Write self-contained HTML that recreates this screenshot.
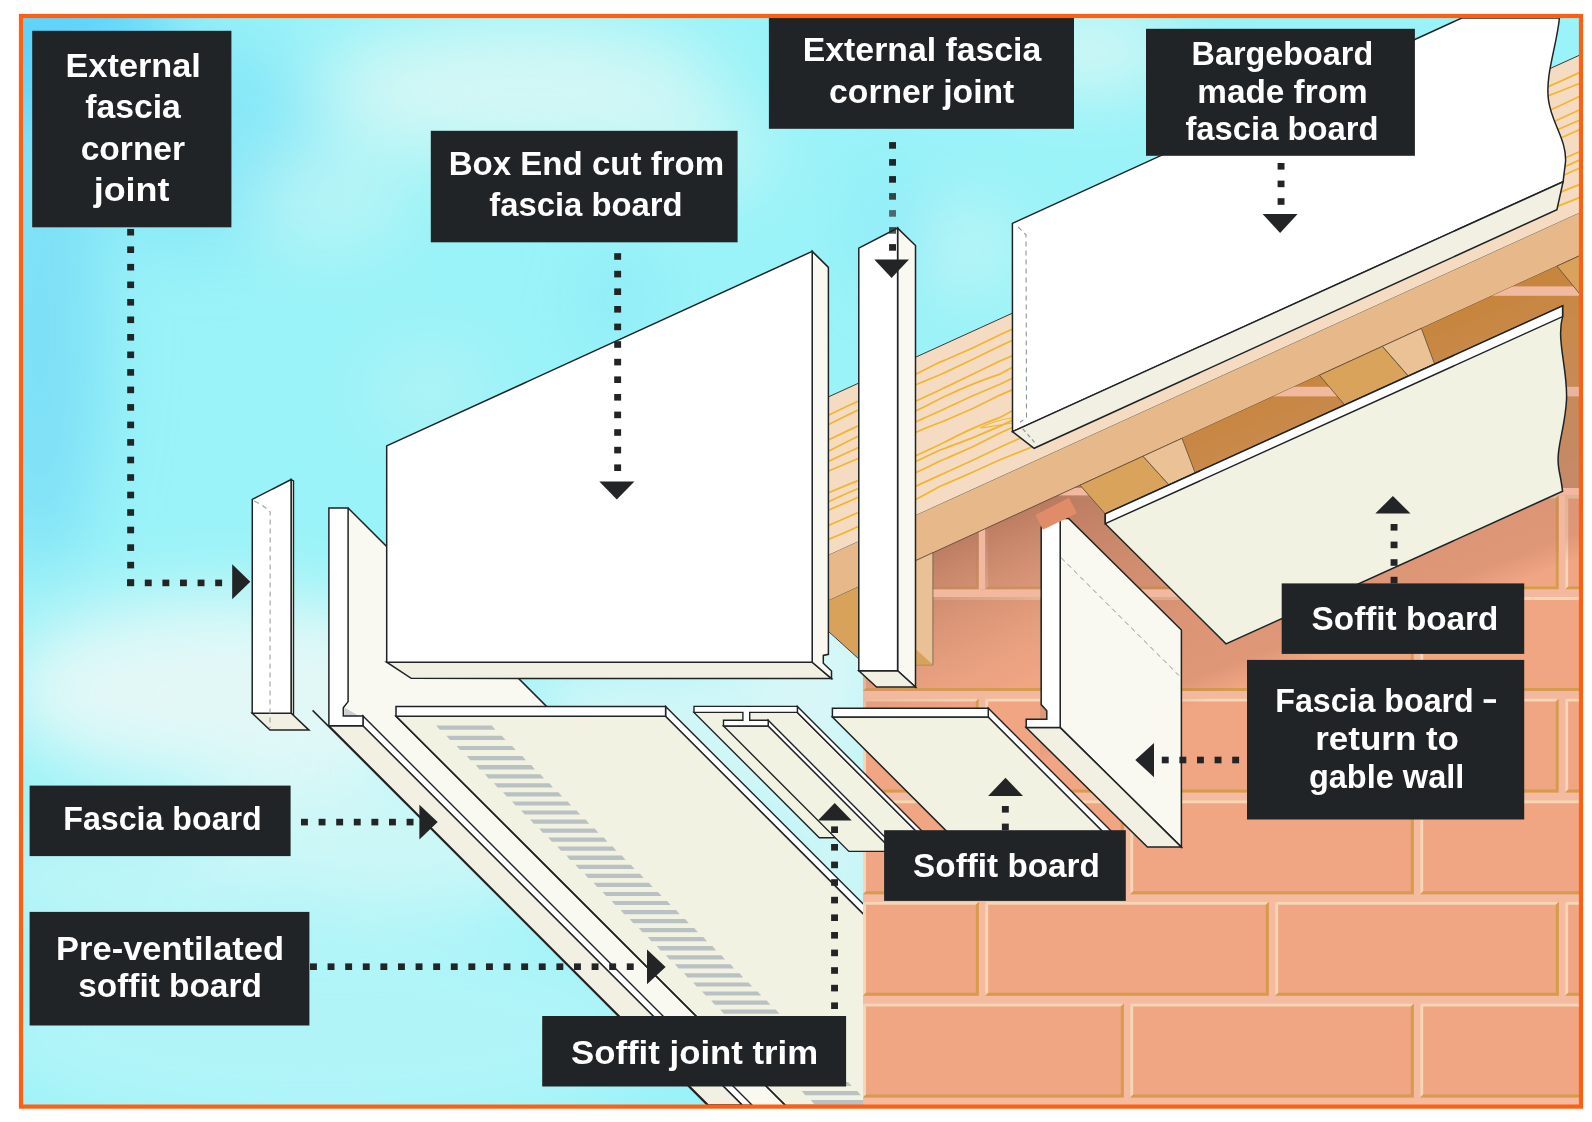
<!DOCTYPE html>
<html><head><meta charset="utf-8"><style>
html,body{margin:0;padding:0;background:#fff;}
svg{display:block;}
.lt{font-family:"Liberation Sans",sans-serif;font-weight:bold;font-size:32.5px;fill:#ffffff;}
</style></head><body>
<svg width="1592" height="1122" viewBox="0 0 1592 1122">

<defs>
 <radialGradient id="skyTL" cx="20" cy="20" r="520" gradientUnits="userSpaceOnUse">
   <stop offset="0" stop-color="#5ad0fb"/><stop offset="0.55" stop-color="#7fe0f6" stop-opacity="0.6"/><stop offset="1" stop-color="#9ff0f7" stop-opacity="0"/>
 </radialGradient>
 <radialGradient id="cloud1" cx="640" cy="120" r="330" gradientUnits="userSpaceOnUse" gradientTransform="translate(640 120) scale(1.5 0.7) translate(-640 -120)">
   <stop offset="0" stop-color="#dcf8f6"/><stop offset="0.5" stop-color="#cff6f5" stop-opacity="0.8"/><stop offset="1" stop-color="#cff6f5" stop-opacity="0"/>
 </radialGradient>
 <radialGradient id="cloud2" cx="260" cy="780" r="330" gradientUnits="userSpaceOnUse" gradientTransform="translate(260 780) scale(1.4 0.6) translate(-260 -780)">
   <stop offset="0" stop-color="#e3f9f6"/><stop offset="0.5" stop-color="#d3f6f5" stop-opacity="0.7"/><stop offset="1" stop-color="#d3f6f5" stop-opacity="0"/>
 </radialGradient>
 <radialGradient id="cloud3" cx="1080" cy="40" r="200" gradientUnits="userSpaceOnUse" gradientTransform="translate(1080 40) scale(1.6 0.6) translate(-1080 -40)">
   <stop offset="0" stop-color="#e0f8f6"/><stop offset="1" stop-color="#e0f8f6" stop-opacity="0"/>
 </radialGradient>
 <radialGradient id="cloud4" cx="560" cy="560" r="260" gradientUnits="userSpaceOnUse">
   <stop offset="0" stop-color="#c8f5f5" stop-opacity="0.6"/><stop offset="1" stop-color="#c8f5f5" stop-opacity="0"/>
 </radialGradient>
 <linearGradient id="wallShade" gradientUnits="userSpaceOnUse" x1="1000" y1="521.8" x2="1066" y2="667.4">
   <stop offset="0" stop-color="#b97a60" stop-opacity="0.92"/>
   <stop offset="0.5" stop-color="#c98a6e" stop-opacity="0.5"/>
   <stop offset="1" stop-color="#d89a7c" stop-opacity="0"/>
 </linearGradient>
 <linearGradient id="voidG" gradientUnits="userSpaceOnUse" x1="1300" y1="300" x2="1400" y2="560">
   <stop offset="0" stop-color="#c47f2c"/><stop offset="0.45" stop-color="#c98a4c"/><stop offset="1" stop-color="#c48a6c"/>
 </linearGradient>
 <filter id="blur1" x="-20%" y="-20%" width="140%" height="140%"><feGaussianBlur stdDeviation="35"/></filter>
 <clipPath id="frame"><rect x="23" y="18" width="1556" height="1087"/></clipPath>
<linearGradient id="castG" gradientUnits="userSpaceOnUse" x1="1257.4" y1="545.8" x2="1302.1" y2="663.6"><stop offset="0" stop-color="#b5765c" stop-opacity="0.4"/><stop offset="0.8" stop-color="#b5765c" stop-opacity="0.3"/><stop offset="1" stop-color="#b5765c" stop-opacity="0"/></linearGradient><clipPath id="wallclip"><polygon points="863,582.8 1579,254.0 1579,1105 863,1105"/></clipPath><clipPath id="plankclip"><polygon points="700.0,455.3 1579.0,55.4 1579.0,213.3 700.0,613.8"/></clipPath><clipPath id="voidclip"><polygon points="1080.0,485.2 1579.0,256.0 1579.0,488.0 1555.0,488.0 1555.0,319.4 1105.3,523.9 1105.3,513.9"/></clipPath><clipPath id="leftclip"><rect x="23" y="18" width="840" height="1087"/></clipPath></defs>

<g clip-path="url(#frame)">
<rect x="23.0" y="18.0" width="1556.0" height="1087.0" fill="#9af3f8" />
<g filter="url(#blur1)">
<ellipse cx="50" cy="40" rx="120" ry="90" fill="#5fd3fb"/>
<ellipse cx="40" cy="330" rx="60" ry="240" fill="#74daf6" opacity="0.8"/>
<ellipse cx="200" cy="140" rx="120" ry="110" fill="#7fe2f7" opacity="0.7"/>
<ellipse cx="520" cy="90" rx="200" ry="70" fill="#d3f7f5"/>
<ellipse cx="680" cy="150" rx="90" ry="45" fill="#c8f6f5"/>
<ellipse cx="893" cy="230" rx="22" ry="60" fill="#7fe4f7" opacity="0.8"/>
<ellipse cx="618" cy="300" rx="22" ry="45" fill="#7fe4f7" opacity="0.8"/>
<ellipse cx="330" cy="200" rx="80" ry="50" fill="#c0f5f5" opacity="0.8"/>
<ellipse cx="970" cy="250" rx="50" ry="45" fill="#bff5f5"/>
<ellipse cx="1090" cy="50" rx="90" ry="40" fill="#d8f7f5"/>
<ellipse cx="230" cy="690" rx="230" ry="95" fill="#e2f8f7"/>
<ellipse cx="120" cy="880" rx="160" ry="50" fill="#bff5f7"/>
<ellipse cx="400" cy="840" rx="220" ry="70" fill="#cdf7f7"/>
<ellipse cx="430" cy="390" rx="60" ry="40" fill="#bdf4f5" opacity="0.7"/>
<ellipse cx="320" cy="1030" rx="340" ry="110" fill="#b0f4f8"/>
<ellipse cx="720" cy="740" rx="170" ry="90" fill="#d0f6f7"/>
<ellipse cx="600" cy="690" rx="90" ry="30" fill="#d6f7f7"/>
<ellipse cx="820" cy="660" rx="80" ry="90" fill="#d8f7f7"/>
<ellipse cx="840" cy="860" rx="60" ry="120" fill="#d0f6f7"/>
</g></g>
<g clip-path="url(#wallclip)">
<rect x="863.0" y="180.0" width="716.0" height="930.0" fill="#f4bba0" />
<polygon points="863.0,1003.4 1123.8,1003.4 1123.8,1097.4 863.0,1097.4" fill="#f0a583" />
<polygon points="863.0,1003.4 1123.8,1003.4 1120.8,1006.4 866.0,1006.4" fill="#f6d6b4" />
<polygon points="863.0,1003.4 866.0,1006.4 866.0,1094.4 863.0,1097.4" fill="#f6d6b4" />
<polygon points="863.0,1097.4 866.0,1094.4 1120.8,1094.4 1123.8,1097.4" fill="#d69b4c" />
<polygon points="1123.8,1003.4 1123.8,1097.4 1120.8,1094.4 1120.8,1006.4" fill="#d69b4c" />
<polygon points="1130.2,1003.4 1413.8,1003.4 1413.8,1097.4 1130.2,1097.4" fill="#f0a583" />
<polygon points="1130.2,1003.4 1413.8,1003.4 1410.8,1006.4 1133.2,1006.4" fill="#f6d6b4" />
<polygon points="1130.2,1003.4 1133.2,1006.4 1133.2,1094.4 1130.2,1097.4" fill="#f6d6b4" />
<polygon points="1130.2,1097.4 1133.2,1094.4 1410.8,1094.4 1413.8,1097.4" fill="#d69b4c" />
<polygon points="1413.8,1003.4 1413.8,1097.4 1410.8,1094.4 1410.8,1006.4" fill="#d69b4c" />
<polygon points="1420.2,1003.4 1703.8,1003.4 1703.8,1097.4 1420.2,1097.4" fill="#f0a583" />
<polygon points="1420.2,1003.4 1703.8,1003.4 1700.8,1006.4 1423.2,1006.4" fill="#f6d6b4" />
<polygon points="1420.2,1003.4 1423.2,1006.4 1423.2,1094.4 1420.2,1097.4" fill="#f6d6b4" />
<polygon points="1420.2,1097.4 1423.2,1094.4 1700.8,1094.4 1703.8,1097.4" fill="#d69b4c" />
<polygon points="1703.8,1003.4 1703.8,1097.4 1700.8,1094.4 1700.8,1006.4" fill="#d69b4c" />
<polygon points="863.0,901.8 978.8,901.8 978.8,995.8 863.0,995.8" fill="#f0a583" />
<polygon points="863.0,901.8 978.8,901.8 975.8,904.8 866.0,904.8" fill="#f6d6b4" />
<polygon points="863.0,901.8 866.0,904.8 866.0,992.8 863.0,995.8" fill="#f6d6b4" />
<polygon points="863.0,995.8 866.0,992.8 975.8,992.8 978.8,995.8" fill="#d69b4c" />
<polygon points="978.8,901.8 978.8,995.8 975.8,992.8 975.8,904.8" fill="#d69b4c" />
<polygon points="985.2,901.8 1268.8,901.8 1268.8,995.8 985.2,995.8" fill="#f0a583" />
<polygon points="985.2,901.8 1268.8,901.8 1265.8,904.8 988.2,904.8" fill="#f6d6b4" />
<polygon points="985.2,901.8 988.2,904.8 988.2,992.8 985.2,995.8" fill="#f6d6b4" />
<polygon points="985.2,995.8 988.2,992.8 1265.8,992.8 1268.8,995.8" fill="#d69b4c" />
<polygon points="1268.8,901.8 1268.8,995.8 1265.8,992.8 1265.8,904.8" fill="#d69b4c" />
<polygon points="1275.2,901.8 1558.8,901.8 1558.8,995.8 1275.2,995.8" fill="#f0a583" />
<polygon points="1275.2,901.8 1558.8,901.8 1555.8,904.8 1278.2,904.8" fill="#f6d6b4" />
<polygon points="1275.2,901.8 1278.2,904.8 1278.2,992.8 1275.2,995.8" fill="#f6d6b4" />
<polygon points="1275.2,995.8 1278.2,992.8 1555.8,992.8 1558.8,995.8" fill="#d69b4c" />
<polygon points="1558.8,901.8 1558.8,995.8 1555.8,992.8 1555.8,904.8" fill="#d69b4c" />
<polygon points="1565.2,901.8 1848.8,901.8 1848.8,995.8 1565.2,995.8" fill="#f0a583" />
<polygon points="1565.2,901.8 1848.8,901.8 1845.8,904.8 1568.2,904.8" fill="#f6d6b4" />
<polygon points="1565.2,901.8 1568.2,904.8 1568.2,992.8 1565.2,995.8" fill="#f6d6b4" />
<polygon points="1565.2,995.8 1568.2,992.8 1845.8,992.8 1848.8,995.8" fill="#d69b4c" />
<polygon points="1848.8,901.8 1848.8,995.8 1845.8,992.8 1845.8,904.8" fill="#d69b4c" />
<polygon points="863.0,800.2 1123.8,800.2 1123.8,894.2 863.0,894.2" fill="#f0a583" />
<polygon points="863.0,800.2 1123.8,800.2 1120.8,803.2 866.0,803.2" fill="#f6d6b4" />
<polygon points="863.0,800.2 866.0,803.2 866.0,891.2 863.0,894.2" fill="#f6d6b4" />
<polygon points="863.0,894.2 866.0,891.2 1120.8,891.2 1123.8,894.2" fill="#d69b4c" />
<polygon points="1123.8,800.2 1123.8,894.2 1120.8,891.2 1120.8,803.2" fill="#d69b4c" />
<polygon points="1130.2,800.2 1413.8,800.2 1413.8,894.2 1130.2,894.2" fill="#f0a583" />
<polygon points="1130.2,800.2 1413.8,800.2 1410.8,803.2 1133.2,803.2" fill="#f6d6b4" />
<polygon points="1130.2,800.2 1133.2,803.2 1133.2,891.2 1130.2,894.2" fill="#f6d6b4" />
<polygon points="1130.2,894.2 1133.2,891.2 1410.8,891.2 1413.8,894.2" fill="#d69b4c" />
<polygon points="1413.8,800.2 1413.8,894.2 1410.8,891.2 1410.8,803.2" fill="#d69b4c" />
<polygon points="1420.2,800.2 1703.8,800.2 1703.8,894.2 1420.2,894.2" fill="#f0a583" />
<polygon points="1420.2,800.2 1703.8,800.2 1700.8,803.2 1423.2,803.2" fill="#f6d6b4" />
<polygon points="1420.2,800.2 1423.2,803.2 1423.2,891.2 1420.2,894.2" fill="#f6d6b4" />
<polygon points="1420.2,894.2 1423.2,891.2 1700.8,891.2 1703.8,894.2" fill="#d69b4c" />
<polygon points="1703.8,800.2 1703.8,894.2 1700.8,891.2 1700.8,803.2" fill="#d69b4c" />
<polygon points="863.0,698.6 978.8,698.6 978.8,792.6 863.0,792.6" fill="#f0a583" />
<polygon points="863.0,698.6 978.8,698.6 975.8,701.6 866.0,701.6" fill="#f6d6b4" />
<polygon points="863.0,698.6 866.0,701.6 866.0,789.6 863.0,792.6" fill="#f6d6b4" />
<polygon points="863.0,792.6 866.0,789.6 975.8,789.6 978.8,792.6" fill="#d69b4c" />
<polygon points="978.8,698.6 978.8,792.6 975.8,789.6 975.8,701.6" fill="#d69b4c" />
<polygon points="985.2,698.6 1268.8,698.6 1268.8,792.6 985.2,792.6" fill="#f0a583" />
<polygon points="985.2,698.6 1268.8,698.6 1265.8,701.6 988.2,701.6" fill="#f6d6b4" />
<polygon points="985.2,698.6 988.2,701.6 988.2,789.6 985.2,792.6" fill="#f6d6b4" />
<polygon points="985.2,792.6 988.2,789.6 1265.8,789.6 1268.8,792.6" fill="#d69b4c" />
<polygon points="1268.8,698.6 1268.8,792.6 1265.8,789.6 1265.8,701.6" fill="#d69b4c" />
<polygon points="1275.2,698.6 1558.8,698.6 1558.8,792.6 1275.2,792.6" fill="#f0a583" />
<polygon points="1275.2,698.6 1558.8,698.6 1555.8,701.6 1278.2,701.6" fill="#f6d6b4" />
<polygon points="1275.2,698.6 1278.2,701.6 1278.2,789.6 1275.2,792.6" fill="#f6d6b4" />
<polygon points="1275.2,792.6 1278.2,789.6 1555.8,789.6 1558.8,792.6" fill="#d69b4c" />
<polygon points="1558.8,698.6 1558.8,792.6 1555.8,789.6 1555.8,701.6" fill="#d69b4c" />
<polygon points="1565.2,698.6 1848.8,698.6 1848.8,792.6 1565.2,792.6" fill="#f0a583" />
<polygon points="1565.2,698.6 1848.8,698.6 1845.8,701.6 1568.2,701.6" fill="#f6d6b4" />
<polygon points="1565.2,698.6 1568.2,701.6 1568.2,789.6 1565.2,792.6" fill="#f6d6b4" />
<polygon points="1565.2,792.6 1568.2,789.6 1845.8,789.6 1848.8,792.6" fill="#d69b4c" />
<polygon points="1848.8,698.6 1848.8,792.6 1845.8,789.6 1845.8,701.6" fill="#d69b4c" />
<polygon points="863.0,597.0 1123.8,597.0 1123.8,691.0 863.0,691.0" fill="#f0a583" />
<polygon points="863.0,597.0 1123.8,597.0 1120.8,600.0 866.0,600.0" fill="#f6d6b4" />
<polygon points="863.0,597.0 866.0,600.0 866.0,688.0 863.0,691.0" fill="#f6d6b4" />
<polygon points="863.0,691.0 866.0,688.0 1120.8,688.0 1123.8,691.0" fill="#d69b4c" />
<polygon points="1123.8,597.0 1123.8,691.0 1120.8,688.0 1120.8,600.0" fill="#d69b4c" />
<polygon points="1130.2,597.0 1413.8,597.0 1413.8,691.0 1130.2,691.0" fill="#f0a583" />
<polygon points="1130.2,597.0 1413.8,597.0 1410.8,600.0 1133.2,600.0" fill="#f6d6b4" />
<polygon points="1130.2,597.0 1133.2,600.0 1133.2,688.0 1130.2,691.0" fill="#f6d6b4" />
<polygon points="1130.2,691.0 1133.2,688.0 1410.8,688.0 1413.8,691.0" fill="#d69b4c" />
<polygon points="1413.8,597.0 1413.8,691.0 1410.8,688.0 1410.8,600.0" fill="#d69b4c" />
<polygon points="1420.2,597.0 1703.8,597.0 1703.8,691.0 1420.2,691.0" fill="#f0a583" />
<polygon points="1420.2,597.0 1703.8,597.0 1700.8,600.0 1423.2,600.0" fill="#f6d6b4" />
<polygon points="1420.2,597.0 1423.2,600.0 1423.2,688.0 1420.2,691.0" fill="#f6d6b4" />
<polygon points="1420.2,691.0 1423.2,688.0 1700.8,688.0 1703.8,691.0" fill="#d69b4c" />
<polygon points="1703.8,597.0 1703.8,691.0 1700.8,688.0 1700.8,600.0" fill="#d69b4c" />
<polygon points="863.0,495.4 978.8,495.4 978.8,589.4 863.0,589.4" fill="#f0a583" />
<polygon points="863.0,495.4 978.8,495.4 975.8,498.4 866.0,498.4" fill="#f6d6b4" />
<polygon points="863.0,495.4 866.0,498.4 866.0,586.4 863.0,589.4" fill="#f6d6b4" />
<polygon points="863.0,589.4 866.0,586.4 975.8,586.4 978.8,589.4" fill="#d69b4c" />
<polygon points="978.8,495.4 978.8,589.4 975.8,586.4 975.8,498.4" fill="#d69b4c" />
<polygon points="985.2,495.4 1268.8,495.4 1268.8,589.4 985.2,589.4" fill="#f0a583" />
<polygon points="985.2,495.4 1268.8,495.4 1265.8,498.4 988.2,498.4" fill="#f6d6b4" />
<polygon points="985.2,495.4 988.2,498.4 988.2,586.4 985.2,589.4" fill="#f6d6b4" />
<polygon points="985.2,589.4 988.2,586.4 1265.8,586.4 1268.8,589.4" fill="#d69b4c" />
<polygon points="1268.8,495.4 1268.8,589.4 1265.8,586.4 1265.8,498.4" fill="#d69b4c" />
<polygon points="1275.2,495.4 1558.8,495.4 1558.8,589.4 1275.2,589.4" fill="#f0a583" />
<polygon points="1275.2,495.4 1558.8,495.4 1555.8,498.4 1278.2,498.4" fill="#f6d6b4" />
<polygon points="1275.2,495.4 1278.2,498.4 1278.2,586.4 1275.2,589.4" fill="#f6d6b4" />
<polygon points="1275.2,589.4 1278.2,586.4 1555.8,586.4 1558.8,589.4" fill="#d69b4c" />
<polygon points="1558.8,495.4 1558.8,589.4 1555.8,586.4 1555.8,498.4" fill="#d69b4c" />
<polygon points="1565.2,495.4 1848.8,495.4 1848.8,589.4 1565.2,589.4" fill="#f0a583" />
<polygon points="1565.2,495.4 1848.8,495.4 1845.8,498.4 1568.2,498.4" fill="#f6d6b4" />
<polygon points="1565.2,495.4 1568.2,498.4 1568.2,586.4 1565.2,589.4" fill="#f6d6b4" />
<polygon points="1565.2,589.4 1568.2,586.4 1845.8,586.4 1848.8,589.4" fill="#d69b4c" />
<polygon points="1848.8,495.4 1848.8,589.4 1845.8,586.4 1845.8,498.4" fill="#d69b4c" />
<polygon points="863.0,393.8 1123.8,393.8 1123.8,487.8 863.0,487.8" fill="#f0a583" />
<polygon points="863.0,393.8 1123.8,393.8 1120.8,396.8 866.0,396.8" fill="#f6d6b4" />
<polygon points="863.0,393.8 866.0,396.8 866.0,484.8 863.0,487.8" fill="#f6d6b4" />
<polygon points="863.0,487.8 866.0,484.8 1120.8,484.8 1123.8,487.8" fill="#d69b4c" />
<polygon points="1123.8,393.8 1123.8,487.8 1120.8,484.8 1120.8,396.8" fill="#d69b4c" />
<polygon points="1130.2,393.8 1413.8,393.8 1413.8,487.8 1130.2,487.8" fill="#f0a583" />
<polygon points="1130.2,393.8 1413.8,393.8 1410.8,396.8 1133.2,396.8" fill="#f6d6b4" />
<polygon points="1130.2,393.8 1133.2,396.8 1133.2,484.8 1130.2,487.8" fill="#f6d6b4" />
<polygon points="1130.2,487.8 1133.2,484.8 1410.8,484.8 1413.8,487.8" fill="#d69b4c" />
<polygon points="1413.8,393.8 1413.8,487.8 1410.8,484.8 1410.8,396.8" fill="#d69b4c" />
<polygon points="1420.2,393.8 1703.8,393.8 1703.8,487.8 1420.2,487.8" fill="#f0a583" />
<polygon points="1420.2,393.8 1703.8,393.8 1700.8,396.8 1423.2,396.8" fill="#f6d6b4" />
<polygon points="1420.2,393.8 1423.2,396.8 1423.2,484.8 1420.2,487.8" fill="#f6d6b4" />
<polygon points="1420.2,487.8 1423.2,484.8 1700.8,484.8 1703.8,487.8" fill="#d69b4c" />
<polygon points="1703.8,393.8 1703.8,487.8 1700.8,484.8 1700.8,396.8" fill="#d69b4c" />
<polygon points="863.0,292.2 978.8,292.2 978.8,386.2 863.0,386.2" fill="#f0a583" />
<polygon points="863.0,292.2 978.8,292.2 975.8,295.2 866.0,295.2" fill="#f6d6b4" />
<polygon points="863.0,292.2 866.0,295.2 866.0,383.2 863.0,386.2" fill="#f6d6b4" />
<polygon points="863.0,386.2 866.0,383.2 975.8,383.2 978.8,386.2" fill="#d69b4c" />
<polygon points="978.8,292.2 978.8,386.2 975.8,383.2 975.8,295.2" fill="#d69b4c" />
<polygon points="985.2,292.2 1268.8,292.2 1268.8,386.2 985.2,386.2" fill="#f0a583" />
<polygon points="985.2,292.2 1268.8,292.2 1265.8,295.2 988.2,295.2" fill="#f6d6b4" />
<polygon points="985.2,292.2 988.2,295.2 988.2,383.2 985.2,386.2" fill="#f6d6b4" />
<polygon points="985.2,386.2 988.2,383.2 1265.8,383.2 1268.8,386.2" fill="#d69b4c" />
<polygon points="1268.8,292.2 1268.8,386.2 1265.8,383.2 1265.8,295.2" fill="#d69b4c" />
<polygon points="1275.2,292.2 1558.8,292.2 1558.8,386.2 1275.2,386.2" fill="#f0a583" />
<polygon points="1275.2,292.2 1558.8,292.2 1555.8,295.2 1278.2,295.2" fill="#f6d6b4" />
<polygon points="1275.2,292.2 1278.2,295.2 1278.2,383.2 1275.2,386.2" fill="#f6d6b4" />
<polygon points="1275.2,386.2 1278.2,383.2 1555.8,383.2 1558.8,386.2" fill="#d69b4c" />
<polygon points="1558.8,292.2 1558.8,386.2 1555.8,383.2 1555.8,295.2" fill="#d69b4c" />
<polygon points="1565.2,292.2 1848.8,292.2 1848.8,386.2 1565.2,386.2" fill="#f0a583" />
<polygon points="1565.2,292.2 1848.8,292.2 1845.8,295.2 1568.2,295.2" fill="#f6d6b4" />
<polygon points="1565.2,292.2 1568.2,295.2 1568.2,383.2 1565.2,386.2" fill="#f6d6b4" />
<polygon points="1565.2,386.2 1568.2,383.2 1845.8,383.2 1848.8,386.2" fill="#d69b4c" />
<polygon points="1848.8,292.2 1848.8,386.2 1845.8,383.2 1845.8,295.2" fill="#d69b4c" />
<polygon points="863.0,190.6 1123.8,190.6 1123.8,284.6 863.0,284.6" fill="#f0a583" />
<polygon points="863.0,190.6 1123.8,190.6 1120.8,193.6 866.0,193.6" fill="#f6d6b4" />
<polygon points="863.0,190.6 866.0,193.6 866.0,281.6 863.0,284.6" fill="#f6d6b4" />
<polygon points="863.0,284.6 866.0,281.6 1120.8,281.6 1123.8,284.6" fill="#d69b4c" />
<polygon points="1123.8,190.6 1123.8,284.6 1120.8,281.6 1120.8,193.6" fill="#d69b4c" />
<polygon points="1130.2,190.6 1413.8,190.6 1413.8,284.6 1130.2,284.6" fill="#f0a583" />
<polygon points="1130.2,190.6 1413.8,190.6 1410.8,193.6 1133.2,193.6" fill="#f6d6b4" />
<polygon points="1130.2,190.6 1133.2,193.6 1133.2,281.6 1130.2,284.6" fill="#f6d6b4" />
<polygon points="1130.2,284.6 1133.2,281.6 1410.8,281.6 1413.8,284.6" fill="#d69b4c" />
<polygon points="1413.8,190.6 1413.8,284.6 1410.8,281.6 1410.8,193.6" fill="#d69b4c" />
<polygon points="1420.2,190.6 1703.8,190.6 1703.8,284.6 1420.2,284.6" fill="#f0a583" />
<polygon points="1420.2,190.6 1703.8,190.6 1700.8,193.6 1423.2,193.6" fill="#f6d6b4" />
<polygon points="1420.2,190.6 1423.2,193.6 1423.2,281.6 1420.2,284.6" fill="#f6d6b4" />
<polygon points="1420.2,284.6 1423.2,281.6 1700.8,281.6 1703.8,284.6" fill="#d69b4c" />
<polygon points="1703.8,190.6 1703.8,284.6 1700.8,281.6 1700.8,193.6" fill="#d69b4c" />
<rect x="863.0" y="180.0" width="716.0" height="700.0" fill="url(#wallShade)" />
<polygon points="1040.0,200.0 1579.0,200.0 1579.0,560.0 1040.0,764.8" fill="url(#castG)" />
<rect x="863.0" y="691.0" width="716.0" height="7.6" fill="#f2b9a0" />
<rect x="978.8" y="698.6" width="6.4" height="94.0" fill="#f2b9a0" />
<rect x="1268.8" y="698.6" width="6.4" height="94.0" fill="#f2b9a0" />
<rect x="1558.8" y="698.6" width="6.4" height="94.0" fill="#f2b9a0" />
<rect x="863.0" y="589.4" width="716.0" height="7.6" fill="#f2b9a0" />
<rect x="1123.8" y="597.0" width="6.4" height="94.0" fill="#f2b9a0" />
<rect x="1413.8" y="597.0" width="6.4" height="94.0" fill="#f2b9a0" />
<rect x="863.0" y="487.8" width="716.0" height="7.6" fill="#f2b9a0" />
<rect x="978.8" y="495.4" width="6.4" height="94.0" fill="#f2b9a0" />
<rect x="1268.8" y="495.4" width="6.4" height="94.0" fill="#f2b9a0" />
<rect x="1558.8" y="495.4" width="6.4" height="94.0" fill="#f2b9a0" />
<rect x="863.0" y="386.2" width="716.0" height="7.6" fill="#f2b9a0" />
<rect x="1123.8" y="393.8" width="6.4" height="94.0" fill="#f2b9a0" />
<rect x="1413.8" y="393.8" width="6.4" height="94.0" fill="#f2b9a0" />
<rect x="863.0" y="284.6" width="716.0" height="7.6" fill="#f2b9a0" />
<rect x="978.8" y="292.2" width="6.4" height="94.0" fill="#f2b9a0" />
<rect x="1268.8" y="292.2" width="6.4" height="94.0" fill="#f2b9a0" />
<rect x="1558.8" y="292.2" width="6.4" height="94.0" fill="#f2b9a0" />
<rect x="863.0" y="183.0" width="716.0" height="7.6" fill="#f2b9a0" />
<rect x="1123.8" y="190.6" width="6.4" height="94.0" fill="#f2b9a0" />
<rect x="1413.8" y="190.6" width="6.4" height="94.0" fill="#f2b9a0" />
</g>
<g clip-path="url(#frame)">
<polygon points="700.0,455.3 1579.0,55.4 1579.0,213.3 700.0,613.8" fill="#f5dbc2" />
<g clip-path="url(#plankclip)">
<path d="M700,473.2 Q730.0,457.8 760,445.2 Q790.0,430.2 820,419.3 Q850.0,404.3 880,391.5 Q910.0,377.7 940,362.1 Q970.0,350.0 1000,334.7 Q1030.0,321.0 1060,307.5 Q1090.0,297.4 1120,281.8 Q1150.0,267.1 1180,253.2 Q1210.0,243.4 1240,228.1 Q1270.0,213.3 1300,200.5 Q1330.0,184.3 1360,175.0 Q1390.0,158.2 1420,147.2 Q1450.0,130.0 1480,116.7 Q1510.0,106.2 1540,90.1 Q1570.0,77.7 1600,62.3" fill="none" stroke="#f1b52e" stroke-width="1.7"/>
<path d="M700,483.2 Q730.0,468.9 760,456.5 Q790.0,440.1 820,428.8 Q850.0,413.5 880,399.4 Q910.0,387.3 940,374.8 Q970.0,360.8 1000,345.9 Q1030.0,332.0 1060,319.2 Q1090.0,306.7 1120,293.4 Q1150.0,278.8 1180,263.6 Q1210.0,253.0 1240,237.6 Q1270.0,222.7 1300,211.2 Q1330.0,194.6 1360,185.0 Q1390.0,170.5 1420,155.2 Q1450.0,141.8 1480,126.7 Q1510.0,115.4 1540,98.9 Q1570.0,87.6 1600,74.8" fill="none" stroke="#f1b52e" stroke-width="1.7"/>
<path d="M700,497.7 Q730.0,483.1 760,472.0 Q790.0,457.2 820,443.9 Q850.0,429.2 880,416.1 Q910.0,404.3 940,389.9 Q970.0,375.6 1000,361.0 Q1030.0,348.5 1060,331.9 Q1090.0,322.6 1120,307.1 Q1150.0,291.8 1180,280.6 Q1210.0,266.4 1240,251.4 Q1270.0,238.0 1300,222.5 Q1330.0,209.0 1360,195.8 Q1390.0,184.9 1420,168.0 Q1450.0,155.0 1480,141.0 Q1510.0,130.8 1540,114.8 Q1570.0,101.4 1600,86.2" fill="none" stroke="#f1b52e" stroke-width="1.7"/>
<path d="M700,508.6 Q730.0,496.9 760,481.6 Q790.0,469.5 820,455.4 Q850.0,439.9 880,425.7 Q910.0,415.0 940,398.8 Q970.0,384.0 1000,374.1 Q1030.0,357.1 1060,343.3 Q1090.0,331.0 1120,316.3 Q1150.0,302.6 1180,290.5 Q1210.0,276.1 1240,260.6 Q1270.0,249.5 1300,234.9 Q1330.0,222.8 1360,210.2 Q1390.0,195.1 1420,180.9 Q1450.0,165.0 1480,154.3 Q1510.0,141.3 1540,128.0 Q1570.0,114.1 1600,100.6" fill="none" stroke="#f1b52e" stroke-width="1.7"/>
<path d="M700,521.6 Q730.0,507.4 760,493.8 Q790.0,481.3 820,465.2 Q850.0,451.2 880,437.7 Q910.0,424.3 940,411.1 Q970.0,396.4 1000,384.3 Q1030.0,369.6 1060,355.5 Q1090.0,343.4 1120,328.6 Q1150.0,318.6 1180,301.0 Q1210.0,287.7 1240,276.3 Q1270.0,261.3 1300,247.3 Q1330.0,232.9 1360,220.5 Q1390.0,209.9 1420,195.3 Q1450.0,180.1 1480,166.3 Q1510.0,150.8 1540,137.3 Q1570.0,124.3 1600,111.2" fill="none" stroke="#f1b52e" stroke-width="1.7"/>
<path d="M700,531.6 Q730.0,516.2 760,505.7 Q790.0,492.9 820,474.8 Q850.0,461.5 880,449.7 Q910.0,433.6 940,422.5 Q970.0,411.0 1000,395.1 Q1030.0,382.3 1060,369.3 Q1090.0,353.3 1120,339.3 Q1150.0,328.0 1180,311.6 Q1210.0,300.8 1240,285.8 Q1270.0,270.7 1300,257.6 Q1330.0,247.1 1360,232.4 Q1390.0,218.9 1420,205.3 Q1450.0,191.3 1480,177.8 Q1510.0,162.8 1540,147.9 Q1570.0,133.1 1600,121.1" fill="none" stroke="#f1b52e" stroke-width="1.7"/>
<path d="M700,552.0 Q730.0,537.3 760,522.6 Q790.0,512.0 820,496.3 Q850.0,483.4 880,472.1 Q910.0,458.8 940,444.6 Q970.0,428.4 1000,417.4 Q1030.0,400.4 1060,386.8 Q1090.0,372.9 1120,359.4 Q1150.0,349.1 1180,334.0 Q1210.0,319.7 1240,307.6 Q1270.0,293.9 1300,279.4 Q1330.0,265.9 1360,249.6 Q1390.0,239.2 1420,225.9 Q1450.0,210.3 1480,197.9 Q1510.0,184.6 1540,168.1 Q1570.0,157.3 1600,141.4" fill="none" stroke="#f1b52e" stroke-width="1.7"/>
<path d="M700,561.0 Q730.0,546.8 760,535.7 Q790.0,522.2 820,505.9 Q850.0,491.0 880,480.0 Q910.0,463.6 940,450.0 Q970.0,439.6 1000,426.1 Q1030.0,412.3 1060,395.5 Q1090.0,384.2 1120,371.8 Q1150.0,356.3 1180,341.7 Q1210.0,326.3 1240,313.4 Q1270.0,302.1 1300,289.8 Q1330.0,276.2 1360,260.5 Q1390.0,248.6 1420,232.8 Q1450.0,218.0 1480,207.2 Q1510.0,191.0 1540,177.3 Q1570.0,165.2 1600,149.9" fill="none" stroke="#f1b52e" stroke-width="1.7"/>
<path d="M700,570.0 Q730.0,555.9 760,541.6 Q790.0,531.0 820,513.7 Q850.0,501.4 880,487.3 Q910.0,476.3 940,461.0 Q970.0,449.1 1000,433.0 Q1030.0,419.8 1060,406.0 Q1090.0,389.9 1120,378.8 Q1150.0,363.4 1180,351.1 Q1210.0,339.2 1240,321.8 Q1270.0,310.2 1300,295.2 Q1330.0,283.3 1360,270.3 Q1390.0,255.8 1420,241.2 Q1450.0,229.8 1480,214.9 Q1510.0,201.3 1540,185.6 Q1570.0,172.6 1600,158.9" fill="none" stroke="#f1b52e" stroke-width="1.7"/>
<path d="M700,583.9 Q730.0,570.3 760,557.8 Q790.0,544.2 820,529.5 Q850.0,515.3 880,503.7 Q910.0,488.3 940,475.1 Q970.0,461.9 1000,447.3 Q1030.0,433.8 1060,419.7 Q1090.0,408.5 1120,392.5 Q1150.0,380.8 1180,366.1 Q1210.0,350.4 1240,339.9 Q1270.0,326.5 1300,310.9 Q1330.0,295.1 1360,284.8 Q1390.0,269.3 1420,254.3 Q1450.0,241.0 1480,226.7 Q1510.0,215.8 1540,199.4 Q1570.0,189.6 1600,175.2" fill="none" stroke="#f1b52e" stroke-width="1.7"/>
<path d="M700,596.9 Q730.0,584.3 760,568.0 Q790.0,554.1 820,542.9 Q850.0,530.9 880,516.6 Q910.0,503.5 940,486.3 Q970.0,473.8 1000,459.8 Q1030.0,448.2 1060,435.0 Q1090.0,418.9 1120,404.0 Q1150.0,391.1 1180,378.3 Q1210.0,363.6 1240,349.5 Q1270.0,334.8 1300,324.5 Q1330.0,309.6 1360,296.4 Q1390.0,281.7 1420,266.7 Q1450.0,255.2 1480,242.1 Q1510.0,230.3 1540,212.3 Q1570.0,202.9 1600,188.1" fill="none" stroke="#f1b52e" stroke-width="1.7"/>
<path d="M980,428 Q995,420 1012,418 M982,428 Q1000,425 1012,423" fill="none" stroke="#f1b52e" stroke-width="1.2"/>
</g>
<line x1="700.0" y1="455.3" x2="1579.0" y2="55.4" stroke="#3a3a36" stroke-width="1.0" />
<line x1="700.0" y1="613.8" x2="1579.0" y2="213.3" stroke="#6b5a48" stroke-width="0.9" />
<polygon points="700.0,613.8 1579.0,213.3 1579.0,256.0 700.0,659.7" fill="#e7b98a" />
<line x1="700.0" y1="659.7" x2="1579.0" y2="256.0" stroke="#5a4a3a" stroke-width="0.9" />
<polygon points="820.0,604.6 860.0,586.2 860.0,660.0 820.0,623.0" fill="#d9a25b" />
<line x1="828.0" y1="631.0" x2="860.0" y2="660.0" stroke="#3a3a36" stroke-width="1.0" />
<polygon points="915.6,560.7 932.9,552.7 932.9,664.8 915.6,664.8" fill="#eac196" stroke="#6b5a48" stroke-width="0.8" stroke-linejoin="miter" />
<polygon points="915.6,648.9 932.9,664.8 915.6,664.8" fill="#d9a25b" />
<polygon points="1080.0,485.2 1579.0,256.0 1579.0,488.0 1555.0,488.0 1555.0,319.4 1105.3,523.9 1105.3,513.9" fill="url(#voidG)" />
<g clip-path="url(#voidclip)">
<rect x="1250.0" y="386.8" width="100.0" height="9.6" fill="#f0b9a0" />
<rect x="1470.0" y="286.4" width="110.0" height="9.4" fill="#f0b9a0" />
<rect x="1540.0" y="386.8" width="40.0" height="9.6" fill="#eab59c" />
</g>
<polygon points="1080.0,485.2 1143.0,456.2 1169.0,484.9 1105.3,513.9" fill="#d9a35c" stroke="#5a4a3a" stroke-width="0.8" stroke-linejoin="miter" />
<polygon points="1143.0,456.2 1182.0,438.3 1195.2,473.0 1169.0,484.9" fill="#ebc295" stroke="#5a4a3a" stroke-width="0.8" stroke-linejoin="miter" />
<polygon points="1319.4,375.2 1382.4,346.3 1408.4,376.1 1344.7,405.0" fill="#d9a35c" stroke="#5a4a3a" stroke-width="0.8" stroke-linejoin="miter" />
<polygon points="1382.4,346.3 1421.4,328.4 1434.6,364.1 1408.4,376.1" fill="#ebc295" stroke="#5a4a3a" stroke-width="0.8" stroke-linejoin="miter" />
<polygon points="1557.0,266.1 1620.0,237.2 1646.0,268.0 1582.3,297.0" fill="#d9a35c" stroke="#5a4a3a" stroke-width="0.8" stroke-linejoin="miter" />
<polygon points="1620.0,237.2 1659.0,219.2 1672.2,256.1 1646.0,268.0" fill="#ebc295" stroke="#5a4a3a" stroke-width="0.8" stroke-linejoin="miter" />
</g>
<path d="M1012.4,223.4 L1461.8,18 L1559.4,18 C1557,45 1545,75 1548.5,100 C1551,122 1567,140 1565.5,162 L1563.1,181.7 L1012.5,431.6 Z" fill="#ffffff" stroke="#1f2325" stroke-width="1.5" />
<polygon points="1012.5,431.6 1563.1,181.7 1556.9,209.7 1034.1,448.3" fill="#f1f0e2" stroke="#1f2325" stroke-width="1.5" stroke-linejoin="miter" />
<path d="M1018,226.8 L1026,234.8 L1026.5,417.6 L1020.1,422.2" fill="none" stroke="#8a9494" stroke-width="1.1" stroke-dasharray="5 4"/>
<path d="M1022.8,428.9 L1034.5,442.3" fill="none" stroke="#8a9494" stroke-width="1.1" stroke-dasharray="4 3"/>
<path d="M1105.3,513.9 L1562.6,305.9 L1562.6,316.6 C1556,340 1568,370 1566.5,400 C1565,430 1555,450 1559,470 C1561,480 1562,486 1562.6,491.3 L1226,643.9 L1105.3,523.7 Z" fill="#f2f2e3" stroke="#1f2325" stroke-width="1.5" />
<polygon points="1105.3,513.9 1562.6,305.9 1562.6,316.6 1105.3,523.7" fill="#ffffff" stroke="#1f2325" stroke-width="1.5" stroke-linejoin="miter" />
<polygon points="1060.2,518.5 1068.6,518.5 1181.4,630.0 1181.4,847.1 1060.2,727.6" fill="#f9f8f1" stroke="#1f2325" stroke-width="1.5" stroke-linejoin="miter" />
<path d="M1061.2,557.8 L1178.9,675.4" fill="none" stroke="#8a9494" stroke-width="1.0" stroke-dasharray="5 4"/>
<polygon points="1026.2,727.6 1060.2,727.6 1181.4,847.1 1147.4,847.1" fill="#f1f0e2" stroke="#1f2325" stroke-width="1.5" stroke-linejoin="miter" />
<polygon points="1041.2,527.0 1060.2,518.0 1060.2,727.6 1026.2,727.6 1026.2,719.3 1046.8,719.3 1046.8,710.7 1041.2,704.6" fill="#ffffff" stroke="#1f2325" stroke-width="1.5" stroke-linejoin="miter" />
<polygon points="1035.3,514.9 1069.0,497.7 1077.0,513.3 1042.9,529.7" fill="#e08c68" />
<polygon points="832.4,717.0 988.3,717.0 1121.3,850.0 965.4,850.0" fill="#f2f2e3" stroke="#1f2325" stroke-width="1.5" stroke-linejoin="miter" />
<polygon points="988.3,708.2 988.3,717.0 1121.3,850.0 1121.3,841.2" fill="#ffffff" stroke="#1f2325" stroke-width="1.4" stroke-linejoin="miter" />
<polygon points="832.4,708.2 988.3,708.2 988.3,717.0 832.4,717.0" fill="#ffffff" stroke="#1f2325" stroke-width="1.5" stroke-linejoin="miter" />
<polygon points="694.0,712.4 797.4,712.4 922.7,837.7 819.3,837.7" fill="#f2f2e3" stroke="#1f2325" stroke-width="1.4" stroke-linejoin="miter" />
<polygon points="797.4,706.4 797.4,712.4 922.7,837.7 922.7,831.7" fill="#ffffff" stroke="#1f2325" stroke-width="1.4" stroke-linejoin="miter" />
<polygon points="723.5,726.0 768.2,726.0 893.6,851.4 848.9,851.4" fill="#f2f2e3" stroke="#1f2325" stroke-width="1.4" stroke-linejoin="miter" />
<polygon points="768.2,720.3 768.2,726.0 893.6,851.4 893.6,845.7" fill="#ffffff" stroke="#1f2325" stroke-width="1.4" stroke-linejoin="miter" />
<polygon points="694.0,706.4 797.4,706.4 797.4,712.4 749.7,712.4 749.7,720.3 768.2,720.3 768.2,726.0 723.5,726.0 723.5,720.3 742.9,720.3 742.9,712.4 694.0,712.4" fill="#ffffff" stroke="#1f2325" stroke-width="1.4" stroke-linejoin="miter" />
<g clip-path="url(#leftclip)">
<polygon points="348.1,508.0 950.0,1109.9 730.0,1109.9 348.1,723.7" fill="#f9f8f1" />
<line x1="348.1" y1="508.0" x2="950.0" y2="1109.9" stroke="#1f2325" stroke-width="1.5" />
<polygon points="396.0,716.2 665.6,716.2 1055.0,1105.6 785.6,1105.6" fill="#f2f2e3" stroke="#1f2325" stroke-width="1.5" stroke-linejoin="miter" />
<polygon points="665.6,706.4 665.6,716.2 1055.0,1105.6 1055.0,1095.8" fill="#ffffff" stroke="#1f2325" stroke-width="1.4" stroke-linejoin="miter" />
<polygon points="436.2,725.5 491.7,725.5 495.3,729.7 439.8,729.7" fill="#b9c1c3" />
<polygon points="446.4,735.7 501.9,735.7 505.5,739.9 450.0,739.9" fill="#b9c1c3" />
<polygon points="456.6,745.9 512.1,745.9 515.7,750.1 460.2,750.1" fill="#b9c1c3" />
<polygon points="466.8,756.1 522.3,756.1 525.9,760.3 470.4,760.3" fill="#b9c1c3" />
<polygon points="475.8,765.1 531.3,765.1 534.9,769.4 479.4,769.4" fill="#b9c1c3" />
<polygon points="484.9,774.2 540.4,774.2 544.0,778.4 488.5,778.4" fill="#b9c1c3" />
<polygon points="493.9,783.2 549.5,783.2 553.0,787.5 497.6,787.5" fill="#b9c1c3" />
<polygon points="503.0,792.3 558.5,792.3 562.1,796.5 506.6,796.5" fill="#b9c1c3" />
<polygon points="512.0,801.4 567.5,801.4 571.1,805.6 515.6,805.6" fill="#b9c1c3" />
<polygon points="521.1,810.4 576.6,810.4 580.2,814.6 524.7,814.6" fill="#b9c1c3" />
<polygon points="530.1,819.5 585.6,819.5 589.2,823.7 533.8,823.7" fill="#b9c1c3" />
<polygon points="539.2,828.5 594.7,828.5 598.3,832.7 542.8,832.7" fill="#b9c1c3" />
<polygon points="548.2,837.5 603.8,837.5 607.4,841.8 551.9,841.8" fill="#b9c1c3" />
<polygon points="557.3,846.6 612.8,846.6 616.4,850.8 560.9,850.8" fill="#b9c1c3" />
<polygon points="566.4,855.6 621.9,855.6 625.5,859.9 570.0,859.9" fill="#b9c1c3" />
<polygon points="575.4,864.7 630.9,864.7 634.5,868.9 579.0,868.9" fill="#b9c1c3" />
<polygon points="584.5,873.8 640.0,873.8 643.6,878.0 588.1,878.0" fill="#b9c1c3" />
<polygon points="593.5,882.8 649.0,882.8 652.6,887.0 597.1,887.0" fill="#b9c1c3" />
<polygon points="602.5,891.9 658.0,891.9 661.6,896.1 606.1,896.1" fill="#b9c1c3" />
<polygon points="611.6,900.9 667.1,900.9 670.7,905.1 615.2,905.1" fill="#b9c1c3" />
<polygon points="620.6,910.0 676.1,910.0 679.8,914.2 624.2,914.2" fill="#b9c1c3" />
<polygon points="629.7,919.0 685.2,919.0 688.8,923.2 633.3,923.2" fill="#b9c1c3" />
<polygon points="638.8,928.0 694.2,928.0 697.9,932.2 642.4,932.2" fill="#b9c1c3" />
<polygon points="647.8,937.1 703.3,937.1 706.9,941.3 651.4,941.3" fill="#b9c1c3" />
<polygon points="656.9,946.1 712.4,946.1 716.0,950.4 660.5,950.4" fill="#b9c1c3" />
<polygon points="665.9,955.2 721.4,955.2 725.0,959.4 669.5,959.4" fill="#b9c1c3" />
<polygon points="675.0,964.2 730.5,964.2 734.1,968.5 678.6,968.5" fill="#b9c1c3" />
<polygon points="684.0,973.3 739.5,973.3 743.1,977.5 687.6,977.5" fill="#b9c1c3" />
<polygon points="693.0,982.4 748.5,982.4 752.1,986.6 696.6,986.6" fill="#b9c1c3" />
<polygon points="702.1,991.4 757.6,991.4 761.2,995.6 705.7,995.6" fill="#b9c1c3" />
<polygon points="711.2,1000.5 766.7,1000.5 770.3,1004.7 714.8,1004.7" fill="#b9c1c3" />
<polygon points="720.2,1009.5 775.7,1009.5 779.3,1013.7 723.8,1013.7" fill="#b9c1c3" />
<polygon points="729.2,1018.6 784.8,1018.6 788.4,1022.8 732.9,1022.8" fill="#b9c1c3" />
<polygon points="738.3,1027.6 793.8,1027.6 797.4,1031.8 741.9,1031.8" fill="#b9c1c3" />
<polygon points="747.4,1036.7 802.9,1036.7 806.5,1040.9 751.0,1040.9" fill="#b9c1c3" />
<polygon points="756.4,1045.7 811.9,1045.7 815.5,1049.9 760.0,1049.9" fill="#b9c1c3" />
<polygon points="765.5,1054.8 821.0,1054.8 824.6,1059.0 769.1,1059.0" fill="#b9c1c3" />
<polygon points="774.5,1063.8 830.0,1063.8 833.6,1068.0 778.1,1068.0" fill="#b9c1c3" />
<polygon points="783.5,1072.8 839.0,1072.8 842.6,1077.0 787.1,1077.0" fill="#b9c1c3" />
<polygon points="792.6,1081.9 848.1,1081.9 851.7,1086.1 796.2,1086.1" fill="#b9c1c3" />
<polygon points="801.7,1091.0 857.2,1091.0 860.8,1095.2 805.3,1095.2" fill="#b9c1c3" />
<polygon points="810.7,1100.0 866.2,1100.0 869.8,1104.2 814.3,1104.2" fill="#b9c1c3" />
<polygon points="819.8,1109.1 875.2,1109.1 878.9,1113.3 823.4,1113.3" fill="#b9c1c3" />
</g>
<polygon points="396.0,706.4 665.6,706.4 665.6,716.2 396.0,716.2" fill="#ffffff" stroke="#1f2325" stroke-width="1.5" stroke-linejoin="miter" />
<g clip-path="url(#leftclip)">
<polygon points="328.9,725.7 363.0,725.7 742.4,1105.1 708.3,1105.1" fill="#f1f0e2" stroke="#1f2325" stroke-width="1.5" stroke-linejoin="miter" />
<polygon points="363.0,716.0 363.0,725.7 742.4,1105.1 752.1,1105.1" fill="#ffffff" stroke="#1f2325" stroke-width="1.4" stroke-linejoin="miter" />
<line x1="312.6" y1="710.4" x2="707.2" y2="1105.0" stroke="#1f2325" stroke-width="1.5" />
</g>
<line x1="396.0" y1="716.2" x2="785.6" y2="1105.6" stroke="#1f2325" stroke-width="1.5" />
<polygon points="342.0,700.0 349.0,700.0 362.0,716.0 342.0,716.0" fill="#f9f8f1" />
<polygon points="344.5,707.6 358.9,716.0 344.5,716.0" fill="#c9ced1" />
<polygon points="328.9,508.0 348.1,508.0 348.1,701.6 343.3,707.7 343.3,716.0 363.0,716.0 363.0,725.7 328.9,725.7" fill="#ffffff" stroke="#1f2325" stroke-width="1.5" stroke-linejoin="miter" />
<polygon points="386.7,662.2 812.2,662.2 831.5,678.6 411.2,678.3" fill="#f1f0e2" stroke="#1f2325" stroke-width="1.5" stroke-linejoin="miter" />
<polygon points="812.2,251.4 828.4,267.4 828.4,654.3 823.3,655.4 823.3,663.3 831.5,671.0 831.5,678.6 812.2,662.2" fill="#f9f8f1" stroke="#1f2325" stroke-width="1.5" stroke-linejoin="miter" />
<polygon points="386.7,445.9 812.2,251.4 812.2,662.2 386.7,662.2" fill="#ffffff" stroke="#1f2325" stroke-width="1.5" stroke-linejoin="miter" />
<polygon points="897.6,228.1 915.5,245.5 915.5,687.0 897.6,670.7" fill="#f9f8f1" stroke="#1f2325" stroke-width="1.5" stroke-linejoin="miter" />
<polygon points="858.8,670.7 897.6,670.7 915.5,687.0 876.5,687.0" fill="#f1f0e2" stroke="#1f2325" stroke-width="1.5" stroke-linejoin="miter" />
<polygon points="858.8,248.1 897.6,228.1 897.6,670.7 858.8,670.7" fill="#ffffff" stroke="#1f2325" stroke-width="1.5" stroke-linejoin="miter" />
<polygon points="291.1,479.5 293.5,481.0 293.5,716.0 291.1,713.2" fill="#f9f8f1" stroke="#1f2325" stroke-width="1.4" stroke-linejoin="miter" />
<polygon points="252.2,713.2 291.2,713.2 309.0,730.1 270.0,730.1" fill="#f1f0e2" stroke="#1f2325" stroke-width="1.5" stroke-linejoin="miter" />
<polygon points="252.3,499.4 291.1,479.5 291.1,713.2 252.2,713.2" fill="#ffffff" stroke="#1f2325" stroke-width="1.5" stroke-linejoin="miter" />
<path d="M254.2,501 Q266,507 270.2,512.2 L270,728" fill="none" stroke="#9aa2a2" stroke-width="1.1" stroke-dasharray="5 4"/>
<rect x="32.2" y="30.8" width="199.2" height="196.5" fill="#212426" />
<text x="133.2" y="76.9" text-anchor="middle" textLength="135.2" lengthAdjust="spacingAndGlyphs" class="lt">External</text>
<text x="133.0" y="117.6" text-anchor="middle" textLength="95.6" lengthAdjust="spacingAndGlyphs" class="lt">fascia</text>
<text x="132.9" y="159.6" text-anchor="middle" textLength="104.4" lengthAdjust="spacingAndGlyphs" class="lt">corner</text>
<text x="131.6" y="201.4" text-anchor="middle" textLength="75.8" lengthAdjust="spacingAndGlyphs" class="lt">joint</text>
<rect x="430.8" y="130.8" width="306.8" height="111.5" fill="#212426" />
<text x="586.4" y="174.9" text-anchor="middle" textLength="275.3" lengthAdjust="spacingAndGlyphs" class="lt">Box End cut from</text>
<text x="585.9" y="216.4" text-anchor="middle" textLength="193.1" lengthAdjust="spacingAndGlyphs" class="lt">fascia board</text>
<rect x="768.9" y="17.9" width="305.1" height="110.9" fill="#212426" />
<text x="922.0" y="61.4" text-anchor="middle" textLength="238.4" lengthAdjust="spacingAndGlyphs" class="lt">External fascia</text>
<text x="921.7" y="103.3" text-anchor="middle" textLength="185.2" lengthAdjust="spacingAndGlyphs" class="lt">corner joint</text>
<rect x="1146.0" y="28.8" width="268.9" height="127.0" fill="#212426" />
<text x="1282.4" y="64.9" text-anchor="middle" textLength="181.6" lengthAdjust="spacingAndGlyphs" class="lt">Bargeboard</text>
<text x="1282.5" y="102.6" text-anchor="middle" textLength="170.3" lengthAdjust="spacingAndGlyphs" class="lt">made from</text>
<text x="1282.0" y="139.7" text-anchor="middle" textLength="193.1" lengthAdjust="spacingAndGlyphs" class="lt">fascia board</text>
<rect x="1281.7" y="583.4" width="242.5" height="70.5" fill="#212426" />
<text x="1405.0" y="629.8" text-anchor="middle" textLength="186.8" lengthAdjust="spacingAndGlyphs" class="lt">Soffit board</text>
<rect x="1247.0" y="659.9" width="277.2" height="159.6" fill="#212426" />
<text x="1374.5" y="711.8" text-anchor="middle" textLength="198.5" lengthAdjust="spacingAndGlyphs" class="lt">Fascia board</text>
<text x="1387.1" y="749.5" text-anchor="middle" textLength="143.8" lengthAdjust="spacingAndGlyphs" class="lt">return to</text>
<text x="1386.6" y="787.7" text-anchor="middle" textLength="155.4" lengthAdjust="spacingAndGlyphs" class="lt">gable wall</text>
<rect x="1483.6" y="699.2" width="12.4" height="3.7" fill="#ffffff" />
<rect x="29.6" y="785.6" width="261.0" height="70.5" fill="#212426" />
<text x="162.5" y="830.1" text-anchor="middle" textLength="198.5" lengthAdjust="spacingAndGlyphs" class="lt">Fascia board</text>
<rect x="29.6" y="911.9" width="279.8" height="113.6" fill="#212426" />
<text x="170.1" y="960.0" text-anchor="middle" textLength="228.0" lengthAdjust="spacingAndGlyphs" class="lt">Pre-ventilated</text>
<text x="170.0" y="997.3" text-anchor="middle" textLength="183.6" lengthAdjust="spacingAndGlyphs" class="lt">soffit board</text>
<rect x="542.2" y="1016.0" width="303.9" height="70.5" fill="#212426" />
<text x="694.6" y="1063.6" text-anchor="middle" textLength="247.2" lengthAdjust="spacingAndGlyphs" class="lt">Soffit joint trim</text>
<rect x="884.1" y="830.2" width="241.7" height="70.7" fill="#212426" />
<text x="1006.5" y="876.8" text-anchor="middle" textLength="186.8" lengthAdjust="spacingAndGlyphs" class="lt">Soffit board</text>
<rect x="127.2" y="228.9" width="6.9" height="6.6" fill="#222426" />
<rect x="127.2" y="246.4" width="6.9" height="6.6" fill="#222426" />
<rect x="127.2" y="263.9" width="6.9" height="6.6" fill="#222426" />
<rect x="127.2" y="281.5" width="6.9" height="6.6" fill="#222426" />
<rect x="127.2" y="299.0" width="6.9" height="6.6" fill="#222426" />
<rect x="127.2" y="316.5" width="6.9" height="6.6" fill="#222426" />
<rect x="127.2" y="334.0" width="6.9" height="6.6" fill="#222426" />
<rect x="127.2" y="351.5" width="6.9" height="6.6" fill="#222426" />
<rect x="127.2" y="369.1" width="6.9" height="6.6" fill="#222426" />
<rect x="127.2" y="386.6" width="6.9" height="6.6" fill="#222426" />
<rect x="127.2" y="404.1" width="6.9" height="6.6" fill="#222426" />
<rect x="127.2" y="421.6" width="6.9" height="6.6" fill="#222426" />
<rect x="127.2" y="439.1" width="6.9" height="6.6" fill="#222426" />
<rect x="127.2" y="456.7" width="6.9" height="6.6" fill="#222426" />
<rect x="127.2" y="474.2" width="6.9" height="6.6" fill="#222426" />
<rect x="127.2" y="491.7" width="6.9" height="6.6" fill="#222426" />
<rect x="127.2" y="509.2" width="6.9" height="6.6" fill="#222426" />
<rect x="127.2" y="526.7" width="6.9" height="6.6" fill="#222426" />
<rect x="127.2" y="544.3" width="6.9" height="6.6" fill="#222426" />
<rect x="127.2" y="561.8" width="6.9" height="6.6" fill="#222426" />
<rect x="127.2" y="579.3" width="6.9" height="6.6" fill="#222426" />
<rect x="127.2" y="579.6" width="6.9" height="6.6" fill="#222426" />
<rect x="144.8" y="579.6" width="6.9" height="6.6" fill="#222426" />
<rect x="162.4" y="579.6" width="6.9" height="6.6" fill="#222426" />
<rect x="180.0" y="579.6" width="6.9" height="6.6" fill="#222426" />
<rect x="197.6" y="579.6" width="6.9" height="6.6" fill="#222426" />
<rect x="215.2" y="579.6" width="6.9" height="6.6" fill="#222426" />
<polygon points="232.2,564.3 250.3,581.7 232.2,599.2" fill="#222426" />
<rect x="614.2" y="253.2" width="6.9" height="6.6" fill="#222426" />
<rect x="614.2" y="270.8" width="6.9" height="6.6" fill="#222426" />
<rect x="614.2" y="288.4" width="6.9" height="6.6" fill="#222426" />
<rect x="614.2" y="306.0" width="6.9" height="6.6" fill="#222426" />
<rect x="614.2" y="323.6" width="6.9" height="6.6" fill="#222426" />
<rect x="614.2" y="341.2" width="6.9" height="6.6" fill="#222426" />
<rect x="614.2" y="358.8" width="6.9" height="6.6" fill="#222426" />
<rect x="614.2" y="376.4" width="6.9" height="6.6" fill="#222426" />
<rect x="614.2" y="394.0" width="6.9" height="6.6" fill="#222426" />
<rect x="614.2" y="411.6" width="6.9" height="6.6" fill="#222426" />
<rect x="614.2" y="429.2" width="6.9" height="6.6" fill="#222426" />
<rect x="614.2" y="446.8" width="6.9" height="6.6" fill="#222426" />
<rect x="614.2" y="464.4" width="6.9" height="6.6" fill="#222426" />
<polygon points="599.3,481.6 634.4,481.6 616.8,499.6" fill="#222426" />
<rect x="889.1" y="142.1" width="6.9" height="6.6" fill="#222426" opacity="1"/>
<rect x="889.1" y="159.1" width="6.9" height="6.6" fill="#222426" opacity="1"/>
<rect x="889.1" y="176.1" width="6.9" height="6.6" fill="#222426" opacity="1"/>
<rect x="889.1" y="193.1" width="6.9" height="6.6" fill="#222426" opacity="0.85"/>
<rect x="889.1" y="210.1" width="6.9" height="6.6" fill="#222426" opacity="0.65"/>
<rect x="889.1" y="227.1" width="6.9" height="6.6" fill="#222426" opacity="0.8"/>
<rect x="889.1" y="244.1" width="6.9" height="6.6" fill="#222426" opacity="1"/>
<polygon points="874.3,259.4 909.0,259.4 891.6,278.0" fill="#222426" />
<rect x="1277.6" y="163.0" width="6.9" height="6.6" fill="#222426" />
<rect x="1277.6" y="180.6" width="6.9" height="6.6" fill="#222426" />
<rect x="1277.6" y="198.2" width="6.9" height="6.6" fill="#222426" />
<polygon points="1262.6,214.0 1297.6,214.0 1280.1,233.0" fill="#222426" />
<polygon points="1375.3,513.6 1410.5,513.6 1392.9,495.9" fill="#222426" />
<rect x="1390.6" y="524.0" width="6.9" height="6.6" fill="#222426" />
<rect x="1390.6" y="541.6" width="6.9" height="6.6" fill="#222426" />
<rect x="1390.6" y="559.2" width="6.9" height="6.6" fill="#222426" />
<rect x="1390.6" y="576.8" width="6.9" height="6.6" fill="#222426" />
<polygon points="1154.0,742.9 1135.3,760.0 1154.0,777.2" fill="#222426" />
<rect x="1161.8" y="756.7" width="6.9" height="6.6" fill="#222426" />
<rect x="1179.4" y="756.7" width="6.9" height="6.6" fill="#222426" />
<rect x="1197.0" y="756.7" width="6.9" height="6.6" fill="#222426" />
<rect x="1214.6" y="756.7" width="6.9" height="6.6" fill="#222426" />
<rect x="1232.2" y="756.7" width="6.9" height="6.6" fill="#222426" />
<polygon points="988.1,796.0 1023.0,796.0 1005.5,777.8" fill="#222426" />
<rect x="1001.9" y="806.0" width="6.9" height="6.6" fill="#222426" />
<rect x="1001.9" y="823.6" width="6.9" height="6.6" fill="#222426" />
<rect x="301.0" y="818.8" width="6.9" height="6.6" fill="#222426" />
<rect x="318.6" y="818.8" width="6.9" height="6.6" fill="#222426" />
<rect x="336.2" y="818.8" width="6.9" height="6.6" fill="#222426" />
<rect x="353.8" y="818.8" width="6.9" height="6.6" fill="#222426" />
<rect x="371.4" y="818.8" width="6.9" height="6.6" fill="#222426" />
<rect x="389.0" y="818.8" width="6.9" height="6.6" fill="#222426" />
<rect x="406.6" y="818.8" width="6.9" height="6.6" fill="#222426" />
<polygon points="419.4,804.7 437.7,822.0 419.4,839.5" fill="#222426" />
<rect x="310.0" y="963.4" width="6.9" height="6.6" fill="#222426" />
<rect x="327.6" y="963.4" width="6.9" height="6.6" fill="#222426" />
<rect x="345.2" y="963.4" width="6.9" height="6.6" fill="#222426" />
<rect x="362.8" y="963.4" width="6.9" height="6.6" fill="#222426" />
<rect x="380.4" y="963.4" width="6.9" height="6.6" fill="#222426" />
<rect x="398.0" y="963.4" width="6.9" height="6.6" fill="#222426" />
<rect x="415.6" y="963.4" width="6.9" height="6.6" fill="#222426" />
<rect x="433.2" y="963.4" width="6.9" height="6.6" fill="#222426" />
<rect x="450.8" y="963.4" width="6.9" height="6.6" fill="#222426" />
<rect x="468.4" y="963.4" width="6.9" height="6.6" fill="#222426" />
<rect x="486.0" y="963.4" width="6.9" height="6.6" fill="#222426" />
<rect x="503.6" y="963.4" width="6.9" height="6.6" fill="#222426" />
<rect x="521.2" y="963.4" width="6.9" height="6.6" fill="#222426" />
<rect x="538.8" y="963.4" width="6.9" height="6.6" fill="#222426" />
<rect x="556.4" y="963.4" width="6.9" height="6.6" fill="#222426" />
<rect x="574.0" y="963.4" width="6.9" height="6.6" fill="#222426" />
<rect x="591.6" y="963.4" width="6.9" height="6.6" fill="#222426" />
<rect x="609.2" y="963.4" width="6.9" height="6.6" fill="#222426" />
<rect x="626.8" y="963.4" width="6.9" height="6.6" fill="#222426" />
<polygon points="647.0,949.6 665.6,967.0 647.0,984.3" fill="#222426" />
<polygon points="817.9,820.6 851.7,820.6 834.7,802.9" fill="#222426" />
<rect x="831.1" y="826.4" width="6.9" height="6.6" fill="#222426" />
<rect x="831.1" y="844.0" width="6.9" height="6.6" fill="#222426" />
<rect x="831.1" y="861.6" width="6.9" height="6.6" fill="#222426" />
<rect x="831.1" y="879.2" width="6.9" height="6.6" fill="#222426" />
<rect x="831.1" y="896.8" width="6.9" height="6.6" fill="#222426" />
<rect x="831.1" y="914.4" width="6.9" height="6.6" fill="#222426" />
<rect x="831.1" y="932.0" width="6.9" height="6.6" fill="#222426" />
<rect x="831.1" y="949.6" width="6.9" height="6.6" fill="#222426" />
<rect x="831.1" y="967.2" width="6.9" height="6.6" fill="#222426" />
<rect x="831.1" y="984.8" width="6.9" height="6.6" fill="#222426" />
<rect x="831.1" y="1002.4" width="6.9" height="6.6" fill="#222426" />
<rect x="21" y="16" width="1560" height="1090.6" fill="none" stroke="#ff5f10" stroke-width="4.2"/>
</svg></body></html>
